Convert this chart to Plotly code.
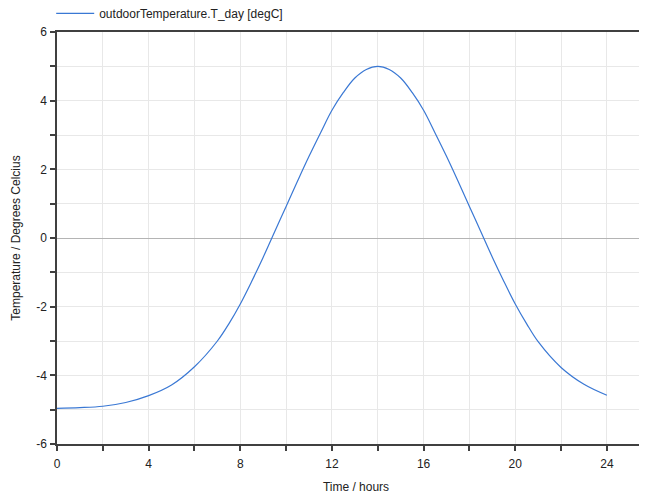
import plotly.graph_objects as go

time_h = [0, 1, 2, 3, 4, 5, 6, 7, 7.5, 8, 8.5, 9, 9.5, 10, 10.5, 11, 11.5, 12, 12.5, 13, 13.5, 14,
          14.5, 15, 15.5, 16, 16.5, 17, 17.5, 18, 18.5, 19, 19.5, 20, 20.5, 21, 22, 23, 24]
t_day = [-4.96, -4.94, -4.90, -4.79, -4.59, -4.28, -3.75, -3.00, -2.50, -1.92, -1.26, -0.56, 0.18, 0.92,
         1.66, 2.38, 3.06, 3.72, 4.24, 4.66, 4.91, 5.00,
         4.91, 4.66, 4.24, 3.72, 3.06, 2.38, 1.66, 0.92, 0.18, -0.56, -1.26, -1.92, -2.50, -3.02,
         -3.77, -4.26, -4.58]

x_tickvals = list(range(0, 26, 2))
x_ticktext = [str(v) if v % 4 == 0 else "" for v in x_tickvals]
y_tickvals = list(range(-6, 7))
y_ticktext = [str(v) if v % 2 == 0 else "" for v in y_tickvals]

font = "Liberation Sans, Arial, sans-serif"

fig = go.Figure()
fig.add_trace(go.Scatter(
    x=time_h, y=t_day, mode="lines", name="outdoorTemperature.T_day [degC]",
    line=dict(color="#3a78d4", width=1.2, shape="spline", smoothing=1.0),
))

# the page body has an 8px margin, so margins compensate for it
fig.update_layout(
    width=647, height=495,
    margin=dict(l=48.5, r=0, t=24, b=59, autoexpand=False),
    plot_bgcolor="white", paper_bgcolor="white",
    font=dict(family=font, size=12, color="#222222"),
    showlegend=True,
    legend=dict(orientation="h", x=-0.0097, y=1.01, xanchor="left", yanchor="bottom",
                font=dict(size=12, color="#222222"), bgcolor="rgba(0,0,0,0)",
                itemwidth=38),
    xaxis=dict(
        range=[0, 26.1], tickvals=x_tickvals, ticktext=x_ticktext,
        showgrid=True, gridcolor="#e8e8e8", gridwidth=1,
        showline=True, linecolor="#404040", linewidth=1.5, mirror=True,
        ticks="outside", ticklen=5, tickcolor="#404040", tickwidth=1.5,
        ticklabelstandoff=3,
        zeroline=False, automargin=False,
        title=dict(text="Time / hours", font=dict(size=12), standoff=12),
    ),
    yaxis=dict(
        range=[-6, 6], tickvals=y_tickvals, ticktext=y_ticktext,
        showgrid=True, gridcolor="#e8e8e8", gridwidth=1,
        showline=True, linecolor="#404040", linewidth=1.5,
        ticks="outside", ticklen=5, tickcolor="#404040", tickwidth=1.5,
        ticklabelstandoff=1,
        zeroline=True, zerolinecolor="#b4b4b4", zerolinewidth=1,
        automargin=False,
        title=dict(text="Temperature / Degrees Celcius", font=dict(size=12), standoff=13),
    ),
)

fig.write_html("out.html")
